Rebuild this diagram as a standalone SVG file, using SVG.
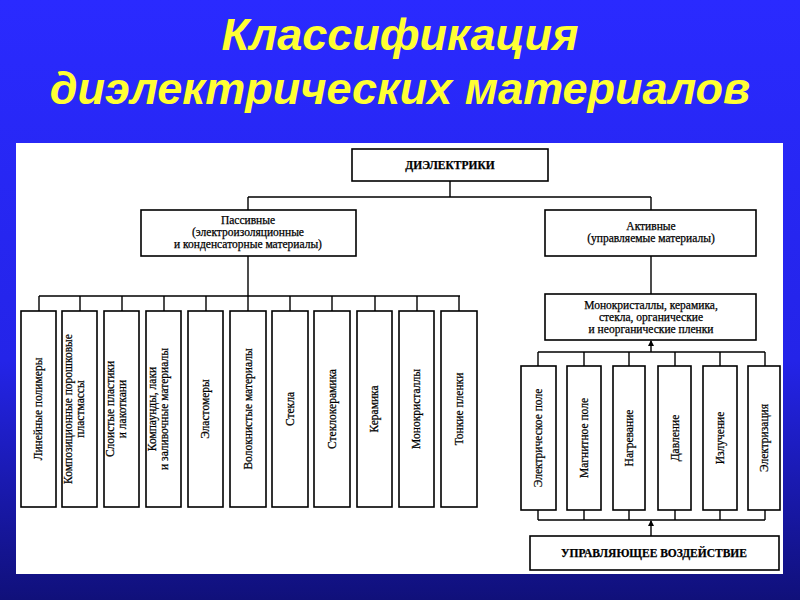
<svg xmlns="http://www.w3.org/2000/svg" width="800" height="600" viewBox="0 0 800 600">
<defs>
<linearGradient id="bg" x1="0" y1="0" x2="0" y2="1"><stop offset="0" stop-color="#2a2aff"/><stop offset="0.6" stop-color="#2424e8"/><stop offset="1" stop-color="#10107a"/></linearGradient>
<marker id="ar" viewBox="0 0 6 6" refX="5" refY="3" markerWidth="6" markerHeight="6" orient="auto" markerUnits="userSpaceOnUse"><path d="M0,0 L6,3 L0,6 z" fill="#000"/></marker>
<style>
.b{fill:#fff;stroke:#000;stroke-width:1.6}
.l{fill:none;stroke:#000;stroke-width:1.4}
.t{font-family:"Liberation Serif",serif;font-size:11.5px;fill:#000;text-anchor:middle;stroke:#000;stroke-width:0.25}
.v{font-family:"Liberation Serif",serif;font-size:11.5px;fill:#000;text-anchor:middle;stroke:#000;stroke-width:0.25}
.title{font-family:"Liberation Sans",sans-serif;font-size:45px;font-weight:bold;font-style:italic;fill:#ffff33;text-anchor:middle}
</style>
</defs>
<rect width="800" height="600" fill="url(#bg)"/>
<text class="title" x="400" y="50">Классификация</text>
<text class="title" x="400" y="104">диэлектрических материалов</text>
<rect x="16" y="143" width="767" height="431" fill="#fff"/>
<g id="connectors">
<path class="l" d="M450,181 V197 M248,197 H651 M248,197 V210 M651,197 V210 M248,256 V296 M39,296 H460 M39,296 V311 M80,296 V311 M122,296 V311 M164,296 V311 M206,296 V311 M248,296 V311 M290,296 V311 M332,296 V311 M375,296 V311 M417,296 V311 M459,296 V311 M651,256 V294"/>
<path class="l" d="M538,352 H765 M538,352 V366 M584,352 V366 M629,352 V366 M675,352 V366 M720,352 V366 M765,352 V366 M538,510 V520 M584,510 V520 M629,510 V520 M675,510 V520 M720,510 V520 M765,510 V520 M538,520 H765"/>
<line class="l" x1="651" y1="352" x2="651" y2="341" marker-end="url(#ar)"/>
<line class="l" x1="651" y1="536" x2="651" y2="521" marker-end="url(#ar)"/>
</g>
<g id="root"><rect class="b" x="352" y="149" width="196" height="32"/><text class="t" x="450" y="169" font-size="12.5" font-weight="bold">ДИЭЛЕКТРИКИ</text></g>
<g id="passive"><rect class="b" x="141" y="210" width="215" height="46"/><text class="t" x="248" y="224">Пассивные</text><text class="t" x="248" y="236">(электроизоляционные</text><text class="t" x="248" y="248">и конденсаторные материалы)</text></g>
<g id="active"><rect class="b" x="545" y="210" width="211" height="46"/><text class="t" x="651" y="230">Активные</text><text class="t" x="651" y="242">(управляемые материалы)</text></g>
<g id="mono"><rect class="b" x="545" y="294" width="211" height="46"/><text class="t" x="651" y="309">Монокристаллы, керамика,</text><text class="t" x="651" y="321">стекла, органические</text><text class="t" x="651" y="333">и неорганические пленки</text></g>
<g id="p1"><rect class="b" x="21" y="311" width="35" height="196"/><text class="v" transform="translate(42,409) rotate(-90)">Линейные полимеры</text></g>
<g id="p2"><rect class="b" x="62" y="311" width="35" height="196"/><text class="v" transform="translate(78,409) rotate(-90)"><tspan x="0" dy="-6">Композиционные порошковые</tspan><tspan x="0" dy="12">пластмассы</tspan></text></g>
<g id="p3"><rect class="b" x="104" y="311" width="35" height="196"/><text class="v" transform="translate(120,409) rotate(-90)"><tspan x="0" dy="-6">Слоистые пластики</tspan><tspan x="0" dy="12">и лакоткани</tspan></text></g>
<g id="p4"><rect class="b" x="146" y="311" width="35" height="196"/><text class="v" transform="translate(162,409) rotate(-90)"><tspan x="0" dy="-6">Компаунды, лаки</tspan><tspan x="0" dy="12">и заливочные материалы</tspan></text></g>
<g id="p5"><rect class="b" x="188" y="311" width="35" height="196"/><text class="v" transform="translate(209,409) rotate(-90)">Эластомеры</text></g>
<g id="p6"><rect class="b" x="230" y="311" width="36" height="196"/><text class="v" transform="translate(252,409) rotate(-90)">Волокнистые материалы</text></g>
<g id="p7"><rect class="b" x="272" y="311" width="36" height="196"/><text class="v" transform="translate(294,409) rotate(-90)">Стекла</text></g>
<g id="p8"><rect class="b" x="314" y="311" width="36" height="196"/><text class="v" transform="translate(336,409) rotate(-90)">Стеклокерамика</text></g>
<g id="p9"><rect class="b" x="357" y="311" width="35" height="196"/><text class="v" transform="translate(378,409) rotate(-90)">Керамика</text></g>
<g id="p10"><rect class="b" x="399" y="311" width="35" height="196"/><text class="v" transform="translate(420,409) rotate(-90)">Монокристаллы</text></g>
<g id="p11"><rect class="b" x="441" y="311" width="36" height="196"/><text class="v" transform="translate(463,409) rotate(-90)">Тонкие пленки</text></g>
<g id="a1"><rect class="b" x="521" y="366" width="35" height="144"/><text class="v" transform="translate(542,438) rotate(-90)">Электрическое поле</text></g>
<g id="a2"><rect class="b" x="567" y="366" width="34" height="144"/><text class="v" transform="translate(588,438) rotate(-90)">Магнитное поле</text></g>
<g id="a3"><rect class="b" x="613" y="366" width="32" height="144"/><text class="v" transform="translate(633,438) rotate(-90)">Нагревание</text></g>
<g id="a4"><rect class="b" x="658" y="366" width="33" height="144"/><text class="v" transform="translate(679,438) rotate(-90)">Давление</text></g>
<g id="a5"><rect class="b" x="703" y="366" width="34" height="144"/><text class="v" transform="translate(724,438) rotate(-90)">Излучение</text></g>
<g id="a6"><rect class="b" x="748" y="366" width="32" height="144"/><text class="v" transform="translate(768,438) rotate(-90)">Электризация</text></g>
<g id="ctrl"><rect class="b" x="530" y="536" width="249" height="34"/><text class="t" x="654" y="557" font-size="12.5" font-weight="bold">УПРАВЛЯЮЩЕЕ ВОЗДЕЙСТВИЕ</text></g>
</svg>
